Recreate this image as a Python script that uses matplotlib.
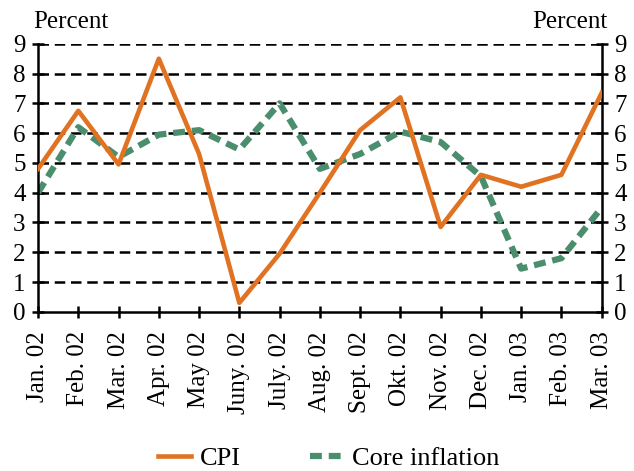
import numpy as np
import matplotlib.pyplot as plt

months = ['Jan. 02', 'Feb. 02', 'Mar. 02', 'Apr. 02', 'May 02', 'Juny. 02', 'July. 02',
          'Aug. 02', 'Sept. 02', 'Okt. 02', 'Nov. 02', 'Dec. 02', 'Jan. 03', 'Feb. 03', 'Mar. 03']
cpi = [4.8, 6.75, 4.95, 8.5, 5.3, 0.3, 1.95, 4.0, 6.1, 7.2, 2.85, 4.6, 4.2, 4.6, 7.35]
core = [4.0, 6.2, 5.2, 5.95, 6.1, 5.45, 7.0, 4.8, 5.3, 6.05, 5.7, 4.55, 1.45, 1.8, 3.5]

plt.rcParams['font.family'] = ['Liberation Serif', 'DejaVu Serif']
plt.rcParams['font.size'] = 18

fig = plt.figure(figsize=(6.34, 4.71), dpi=100)
ax = fig.add_axes([0.06, 0.338, 0.889, 0.569])
x = np.arange(len(months))

for yv in range(1, 10):
    ax.axhline(yv, color='black', lw=1.8, ls=(0, (4.2, 2.3)), zorder=1)

ax.plot(x, cpi, color='#E07222', lw=3.3, label='CPI', zorder=3)
ax.plot(x, core, color='#4A8E6E', lw=4.5, ls=(0, (1.9, 1.1)), label='Core inflation', zorder=2)

ax.set_xlim(0, 14)
ax.set_ylim(0, 9)
ax.set_yticks(range(10))
ax.set_xticks(x)
ax.set_xticklabels(months, rotation=90)
ax.spines['top'].set_visible(False)
for s in ['left', 'right', 'bottom']:
    ax.spines[s].set_linewidth(1.8)
ax.tick_params(axis='y', which='both', left=True, right=True, labelleft=True, labelright=True,
               direction='inout', length=8, width=1.8, pad=5)
ax.tick_params(axis='x', direction='inout', length=8, width=1.8, pad=10)

fig.text(0.053, 0.953, 'Percent', ha='left', va='center', fontsize=18)
fig.text(0.958, 0.953, 'Percent', ha='right', va='center', fontsize=18)

fig.legend(loc='lower center', bbox_to_anchor=(0.518, -0.048), ncol=2, frameon=False,
           handlelength=1.25, handletextpad=0.35, columnspacing=2.6, fontsize=19)

fig.savefig('out.png', dpi=100)
